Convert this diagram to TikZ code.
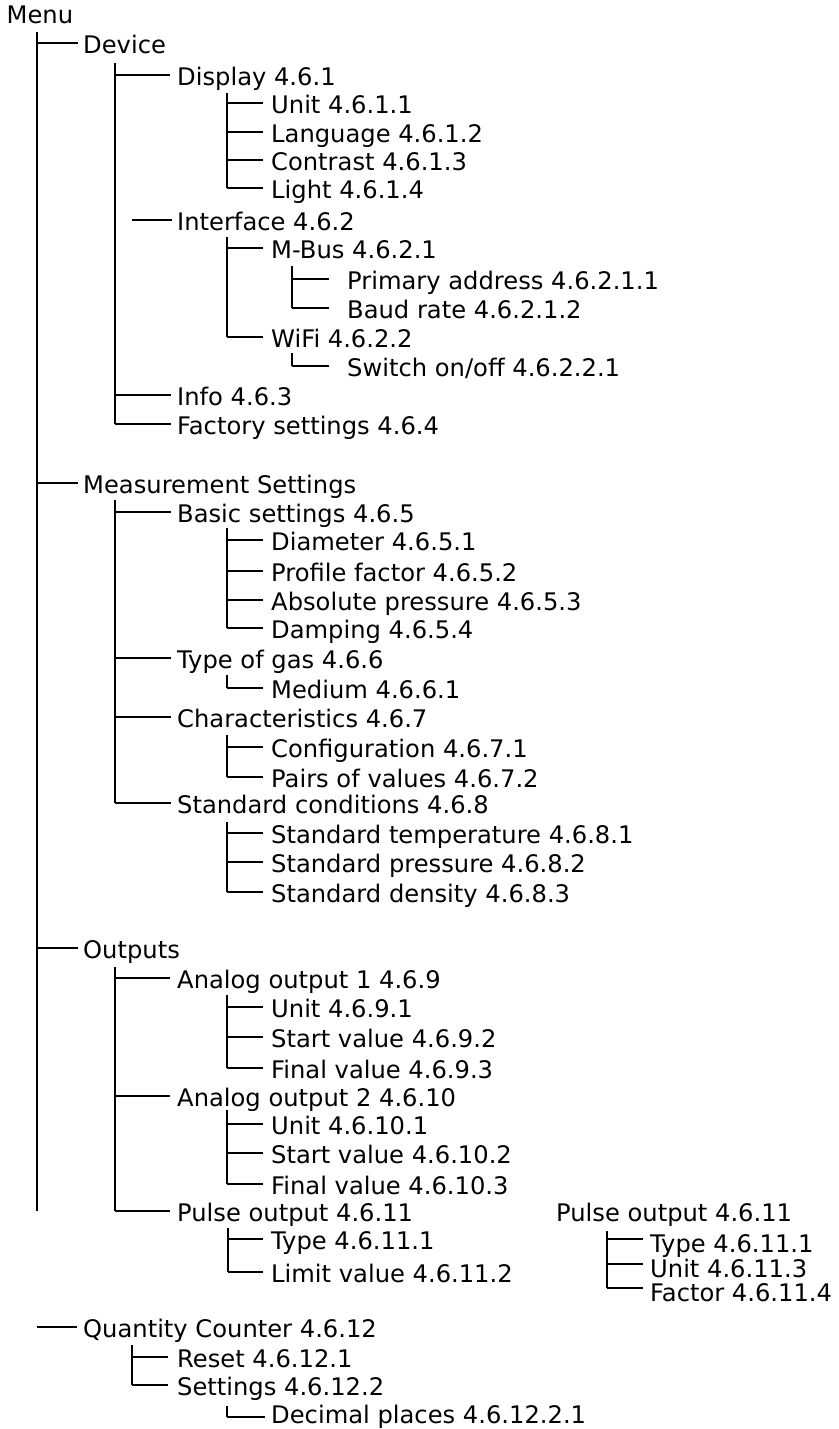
\documentclass[tikz,border=0pt]{standalone}
\usepackage{fontspec}
\setmainfont{DejaVu Sans}
\newcommand\twig[3]{\draw[tree] (#1 |- #2.west) -- ([xshift=-#3pt]#2.west);}
\begin{document}
\begin{tikzpicture}[x=1pt,y=-1pt,
  tree/.style={line width=2pt,black},
  item/.style={anchor=west,inner sep=0pt,text height=20pt,text depth=0pt,
    font=\fontsize{24.2}{28}\selectfont},
  ritem/.style={item,text height=27pt}]
\useasboundingbox (0,0) rectangle (838,1429);
% ---------- texts ----------
\node[item] (menu) at (6.5,14) {Menu};
\node[item] (dev) at (83,43) {Device};
\node[item] (disp) at (177,75) {Display 4.6.1};
\node[item] (unit1) at (271,103) {Unit 4.6.1.1};
\node[item] (lang) at (271,132) {Language 4.6.1.2};
\node[item] (contr) at (271,160) {Contrast 4.6.1.3};
\node[item] (light) at (271,188) {Light 4.6.1.4};
\node[item] (iface) at (177,220) {Interface 4.6.2};
\node[item] (mbus) at (271,248) {M-Bus 4.6.2.1};
\node[item] (prim) at (347,279) {Primary address 4.6.2.1.1};
\node[item] (baud) at (347,308) {Baud rate 4.6.2.1.2};
\node[item] (wifi) at (271,337) {WiFi 4.6.2.2};
\node[item] (sw) at (347,366) {Switch on/off 4.6.2.2.1};
\node[item] (info) at (177,395) {Info 4.6.3};
\node[item] (fact) at (177,424) {Factory settings 4.6.4};
\node[item] (meas) at (83,483) {Measurement Settings};
\node[item] (basic) at (177,512) {Basic settings 4.6.5};
\node[item] (diam) at (271,540) {Diameter 4.6.5.1};
\node[item] (prof) at (271,571) {Profile factor 4.6.5.2};
\node[item] (abs) at (271,600) {Absolute pressure 4.6.5.3};
\node[item] (damp) at (271,628) {Damping 4.6.5.4};
\node[item] (gas) at (177,658) {Type of gas 4.6.6};
\node[item] (med) at (271,688) {Medium 4.6.6.1};
\node[item] (char) at (177,717) {Characteristics 4.6.7};
\node[item] (conf) at (271,747) {Configuration 4.6.7.1};
\node[item] (pairs) at (271,777) {Pairs of values 4.6.7.2};
\node[item] (stdc) at (177,803) {Standard conditions 4.6.8};
\node[item] (stdt) at (271,833) {Standard temperature 4.6.8.1};
\node[item] (stdp) at (271,862) {Standard pressure 4.6.8.2};
\node[item] (stdd) at (271,892) {Standard density 4.6.8.3};
\node[item] (outp) at (83,948) {Outputs};
\node[item] (ao1) at (177,978) {Analog output 1 4.6.9};
\node[item] (u9) at (271,1007) {Unit 4.6.9.1};
\node[item] (s9) at (271,1037) {Start value 4.6.9.2};
\node[item] (f9) at (271,1068) {Final value 4.6.9.3};
\node[item] (ao2) at (177,1096) {Analog output 2 4.6.10};
\node[item] (u10) at (271,1124) {Unit 4.6.10.1};
\node[item] (s10) at (271,1153) {Start value 4.6.10.2};
\node[item] (f10) at (271,1184) {Final value 4.6.10.3};
\node[item] (pulse) at (177,1211) {Pulse output 4.6.11};
\node[item] (type11) at (271,1239) {Type 4.6.11.1};
\node[item] (lim) at (271,1272) {Limit value 4.6.11.2};
\node[item] (qc) at (83,1327) {Quantity Counter 4.6.12};
\node[item] (reset) at (177,1357) {Reset 4.6.12.1};
\node[item] (sett) at (177,1385) {Settings 4.6.12.2};
\node[item,text height=12pt] (dec) at (271,1417) {Decimal places 4.6.12.2.1};
\node[item] (rpulse) at (556,1211) {Pulse output 4.6.11};
\node[ritem] (rtype) at (650,1239) {Type 4.6.11.1};
\node[ritem] (runit) at (650,1264) {Unit 4.6.11.3};
\node[ritem] (rfact) at (650,1288) {Factor 4.6.11.4};
% ---------- vertical lines ----------
\coordinate (vA) at (37,32);    \coordinate (vAend) at (37,1211);
\coordinate (vB) at (114.5,63);
\coordinate (vC) at (227,93);
\coordinate (ifx) at (132,220);
\coordinate (vD) at (227,237);
\coordinate (vE) at (292,266);
\coordinate (vF) at (292,353);
\coordinate (vG) at (114.5,500);
\coordinate (vH) at (227,528);
\coordinate (vI) at (227,675);
\coordinate (vJ) at (227,735);
\coordinate (vK) at (227,822);
\coordinate (vL) at (114.5,967);
\coordinate (vM) at (227,995);
\coordinate (vN) at (227,1110);
\coordinate (vO) at (228,1228);
\coordinate (vP) at (132,1345);
\coordinate (vQ) at (227,1406);
\coordinate (vR) at (607,1231);
\draw[tree] (vA) -- (vAend);
\draw[tree] (vB) -- (vB |- fact.west);
\draw[tree] (vC) -- (vC |- light.west);
\draw[tree] (vD) -- (vD |- wifi.west);
\draw[tree] (vE) -- (vE |- baud.west);
\draw[tree] (vF) -- (vF |- sw.west);
\draw[tree] (vG) -- (vG |- stdc.west);
\draw[tree] (vH) -- (vH |- damp.west);
\draw[tree] (vI) -- (vI |- med.west);
\draw[tree] (vJ) -- (vJ |- pairs.west);
\draw[tree] (vK) -- (vK |- stdd.west);
\draw[tree] (vL) -- (vL |- pulse.west);
\draw[tree] (vM) -- (vM |- f9.west);
\draw[tree] (vN) -- (vN |- f10.west);
\draw[tree] (vO) -- (vO |- lim.west);
\draw[tree] (vP) -- (vP |- sett.west);
\draw[tree] (vQ) -- (vQ |- dec.west);
\draw[tree] (vR) -- (vR |- rfact.west);
% ---------- horizontal branches ----------
\twig{vA}{dev}{5}
\twig{vA}{meas}{5}
\twig{vA}{outp}{5}
\twig{vA}{qc}{6}
\twig{vB}{disp}{7}
\draw[tree] (ifx) -- ([xshift=-5pt]iface.west);
\twig{vB}{info}{6}
\twig{vB}{fact}{6}
\twig{vC}{unit1}{8.5}
\twig{vC}{lang}{8.5}
\twig{vC}{contr}{8.5}
\twig{vC}{light}{8.5}
\twig{vD}{mbus}{8}
\twig{vD}{wifi}{8}
\twig{vE}{prim}{18}
\twig{vE}{baud}{18}
\twig{vF}{sw}{18}
\twig{vG}{basic}{6}
\twig{vG}{gas}{6}
\twig{vG}{char}{6}
\twig{vG}{stdc}{6}
\twig{vH}{diam}{8.5}
\twig{vH}{prof}{8.5}
\twig{vH}{abs}{8.5}
\twig{vH}{damp}{8.5}
\twig{vI}{med}{8.5}
\twig{vJ}{conf}{8.5}
\twig{vJ}{pairs}{8.5}
\twig{vK}{stdt}{8.5}
\twig{vK}{stdp}{8.5}
\twig{vK}{stdd}{8.5}
\twig{vL}{ao1}{7}
\twig{vL}{ao2}{7}
\twig{vL}{pulse}{7}
\twig{vM}{u9}{8.5}
\twig{vM}{s9}{8.5}
\twig{vM}{f9}{8.5}
\twig{vN}{u10}{8.5}
\twig{vN}{s10}{8.5}
\twig{vN}{f10}{8.5}
\twig{vO}{type11}{8.5}
\twig{vO}{lim}{8.5}
\twig{vP}{reset}{9}
\twig{vP}{sett}{9}
\twig{vQ}{dec}{6}
\twig{vR}{rtype}{7}
\twig{vR}{runit}{7}
\twig{vR}{rfact}{7}
\end{tikzpicture}
\end{document}
